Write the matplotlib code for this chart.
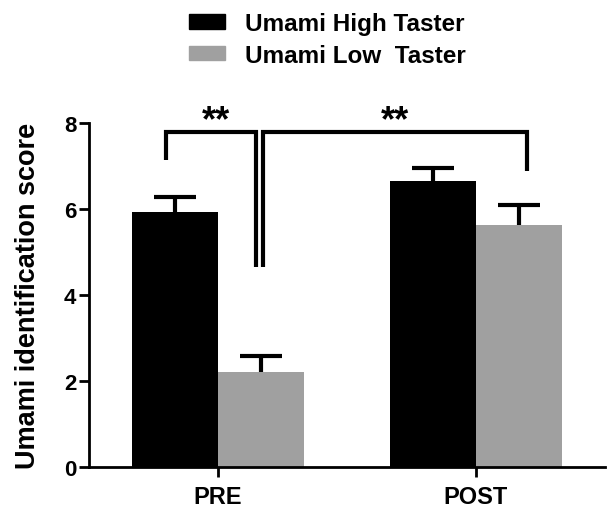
import numpy as np
import matplotlib
matplotlib.use('Agg')
import matplotlib.pyplot as plt
from matplotlib.patches import Patch

plt.rcParams['font.family'] = ['Liberation Sans', 'DejaVu Sans']
plt.rcParams['font.weight'] = 'bold'

# ============ 数据 ============
groups = ['PRE', 'POST']
series = ['Umami High Taster', 'Umami Low  Taster']
high_mean = [5.93, 6.65]
high_err = [0.35, 0.30]
low_mean = [2.22, 5.63]
low_err = [0.35, 0.46]
colors = ['#000000', '#a0a0a0']

fig = plt.figure(figsize=(6.07, 5.10), dpi=100)
ax = fig.add_axes([0.1466, 0.0824, 0.850, 0.6745])

x = np.arange(len(groups))
w = 1 / 3
eb = dict(lw=3, capsize=15, capthick=3, ecolor='black', fmt='none', zorder=3)
ax.bar(x - w / 2, high_mean, w, color=colors[0])
e1 = ax.errorbar(x - w / 2, high_mean, yerr=[np.zeros(2), high_err], **eb)
ax.bar(x + w / 2, low_mean, w, color=colors[1])
e2 = ax.errorbar(x + w / 2, low_mean, yerr=[np.zeros(2), low_err], **eb)
# 只保留上方误差帽
for e in (e1, e2):
    e[1][0].set_visible(False)

ax.set_xlim(-0.5, 1.5)
ax.set_ylim(0, 8)
ax.set_yticks([0, 2, 4, 6, 8])
ax.set_xticks(x)
ax.set_xticklabels(groups, fontsize=17)
ax.tick_params(axis='y', labelsize=16, width=2, length=7, pad=2)
ax.tick_params(axis='x', width=2, length=7, pad=6)
for s in ['top', 'right']:
    ax.spines[s].set_visible(False)
for s in ['left', 'bottom']:
    ax.spines[s].set_linewidth(2)
ax.set_ylabel('Umami identification score', fontsize=19.5, fontweight='bold', labelpad=17)

# 显著性括号
lk = dict(color='black', lw=3, clip_on=False, solid_capstyle='butt', solid_joinstyle='miter')
x0 = x[0] - w / 2 - 0.035
x1 = x[0] + w / 2 - 0.02
x2 = x[0] + w / 2 + 0.007
x3 = x[1] + w / 2 + 0.03
ytop = 7.79
ax.plot([x0, x0, x1, x1], [7.14, ytop, ytop, 4.65], **lk)
ax.plot([x2, x2, x3, x3], [4.65, ytop, ytop, 6.88], **lk)
ax.text((x0 + x1) / 2 + 0.02, 8.05, '**', ha='center', va='center', fontsize=26, clip_on=False)
ax.text((x2 + x3) / 2, 8.05, '**', ha='center', va='center', fontsize=26, clip_on=False)

handles = [Patch(color=c) for c in colors]
fig.legend(handles, series, loc='upper center', bbox_to_anchor=(0.54, 1.017), frameon=False,
           fontsize=17.5, handlelength=1.45, handleheight=0.55, handletextpad=0.85, labelspacing=0.35)

plt.savefig('out.png', dpi=100)
